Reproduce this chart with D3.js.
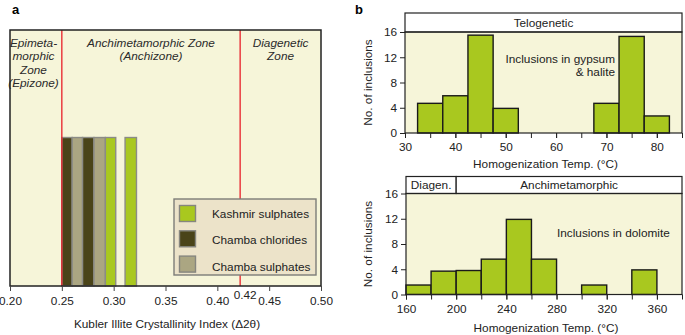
<!DOCTYPE html>
<html>
<head>
<meta charset="utf-8">
<script src="https://cdn.jsdelivr.net/npm/d3@7"></script>
<style>
  body { margin: 0; background: #fff; }
  svg { font-family: 'Liberation Sans', Arial, sans-serif; }
</style>
</head>
<body>
<div id="chart"></div>
<script>
// ---- panel a: Kubler illite crystallinity ----
const kublerTicks = [0.20, 0.25, 0.30, 0.35, 0.40, 0.45, 0.50];
const zoneBounds = [0.25, 0.422];
const zoneNames = [
  ['Epimeta-', 'morphic', 'Zone', '(Epizone)'],
  ['Anchimetamorphic Zone', '(Anchizone)'],
  ['Diagenetic', 'Zone']
];
const kublerLo = [0.250, 0.260, 0.270, 0.281, 0.292, 0.311];
const kublerHi = [0.260, 0.270, 0.281, 0.292, 0.302, 0.322];
const kublerGroup = ['Chamba chlorides', 'Chamba sulphates', 'Chamba chlorides',
  'Chamba sulphates', 'Kashmir sulphates', 'Kashmir sulphates'];
const kublerHeight = [0.58, 0.58, 0.58, 0.58, 0.58, 0.58];
const legendNames = ['Kashmir sulphates', 'Chamba chlorides', 'Chamba sulphates'];

// ---- panel b: homogenization temperatures ----
const gypsumBins = [32.5, 37.5, 42.5, 47.5, 67.5, 72.5, 77.5];
const gypsumCounts = [4.7, 5.9, 15.5, 3.9, 4.7, 15.3, 2.7];
const dolomiteBins = [160, 180, 200, 220, 240, 260, 300, 340];
const dolomiteCounts = [1.5, 3.7, 3.8, 5.6, 11.9, 5.6, 1.5, 3.9];
const countTicks = [0, 4, 8, 12, 16];
const gypsumTicks = [30, 40, 50, 60, 70, 80];
const dolomiteTicks = [160, 200, 240, 280, 320, 360];
const topZones = [{ from: 30, to: 85, name: 'Telogenetic' }];
const bottomZones = [{ from: 160, to: 200, name: 'Diagen.' }, { from: 200, to: 380, name: 'Anchimetamorphic' }];

const COLORS = {
  'Kashmir sulphates': '#a9c81f',
  'Chamba chlorides': '#4a4419',
  'Chamba sulphates': '#aba682'
};
const PLOT_BG = '#f6f5d9';
const FONT = "'Liberation Sans', Arial, sans-serif";

const svg = d3.select('#chart').append('svg')
  .attr('width', 685)
  .attr('height', 335);

// panel letters
svg.append('text').attr('x', 12).attr('y', 14)
  .style('font-weight', 'bold').style('font-size', '13px').text('a');
svg.append('text').attr('x', 355).attr('y', 14)
  .style('font-weight', 'bold').style('font-size', '13px').text('b');

function drawPanelA () {
  const L = 10, R = 321, T = 30, B = 286;
  const x = d3.scaleLinear().domain([0.2, 0.5]).range([L, R]);
  const y = d3.scaleLinear().domain([0, 1]).range([B, T]);
  const g = svg.append('g');

  g.append('rect').attr('x', L).attr('y', T).attr('width', R - L).attr('height', B - T)
    .attr('fill', PLOT_BG);

  // bars
  g.selectAll('.kbar')
    .data(kublerLo.map((lo, i) => ({ lo, hi: kublerHi[i], group: kublerGroup[i], h: kublerHeight[i] })))
    .enter()
    .append('rect')
    .attr('x', d => x(d.lo))
    .attr('y', d => y(d.h))
    .attr('width', d => x(d.hi) - x(d.lo))
    .attr('height', d => y(0) - y(d.h))
    .attr('fill', d => COLORS[d.group])
    .attr('stroke', '#8b8b86')
    .attr('stroke-width', 1.4);

  // zone boundaries
  g.selectAll('.zline')
    .data(zoneBounds)
    .enter()
    .append('line')
    .attr('x1', d => x(d)).attr('x2', d => x(d))
    .attr('y1', T).attr('y2', B)
    .attr('stroke', '#e8202a')
    .attr('stroke-width', 1.3);

  // zone labels
  const edges = [0.2].concat(zoneBounds, [0.5]);
  zoneNames.forEach((lines, i) => {
    const cx = i === 0 ? 33.5 : (x(edges[i]) + x(edges[i + 1])) / 2;
    lines.forEach((t, j) => {
      g.append('text')
        .attr('x', cx)
        .attr('y', 47 + j * 13.3)
        .attr('text-anchor', 'middle')
        .style('font-style', 'italic')
        .style('font-size', '11.8px')
        .attr('fill', '#2a2a2a')
        .text(t);
    });
  });

  // frame
  g.append('rect').attr('x', L).attr('y', T).attr('width', R - L).attr('height', B - T)
    .attr('fill', 'none').attr('stroke', '#222').attr('stroke-width', 1.5);

  // x axis
  const ax = g.append('g')
    .attr('transform', 'translate(0,' + B + ')')
    .call(d3.axisBottom(x).tickValues(kublerTicks).tickFormat(d3.format('.2f')).tickSize(5).tickPadding(6));
  ax.select('.domain').remove();
  ax.selectAll('line').attr('stroke', '#444');
  ax.selectAll('text').style('font-size', '11.8px').attr('fill', '#222')
    .style('font-family', FONT);

  g.append('text')
    .attr('x', x(zoneBounds[1]) + 5)
    .attr('y', 299)
    .attr('text-anchor', 'middle')
    .style('font-size', '11.8px')
    .attr('fill', '#222')
    .text(d3.format('.2f')(zoneBounds[1]));

  g.append('text')
    .attr('x', 167).attr('y', 328)
    .attr('text-anchor', 'middle')
    .style('font-size', '11.8px')
    .attr('fill', '#222')
    .text('Kubler Illite Crystallinity Index (\u03942\u03b8)');

  // legend
  const lg = g.append('g').attr('transform', 'translate(174,199)');
  lg.append('rect').attr('width', 142).attr('height', 76)
    .attr('fill', '#ece3c9').attr('stroke', '#7d7d78').attr('stroke-width', 1.4);
  legendNames.forEach((name, i) => {
    lg.append('rect')
      .attr('x', 5.5).attr('y', 6.5 + i * 25.3)
      .attr('width', 16).attr('height', 16)
      .attr('fill', COLORS[name])
      .attr('stroke', '#86867f').attr('stroke-width', 1.4);
    lg.append('text')
      .attr('x', 38).attr('y', 14.5 + i * 26.6)
      .attr('dy', '0.35em')
      .style('font-size', '11.8px')
      .attr('fill', '#222')
      .text(name);
  });
}

function drawHist (opts) {
  const { L, R, T, B, headTop, domain, bins, width, counts, ticks, minorStep, zones, xTitle, titleY } = opts;
  const x = d3.scaleLinear().domain(domain).range([L, R]);
  const y = d3.scaleLinear().domain([0, 16]).range([B, T]);
  const g = svg.append('g');

  g.append('rect').attr('x', L).attr('y', T).attr('width', R - L).attr('height', B - T)
    .attr('fill', PLOT_BG);

  g.selectAll('.hbar')
    .data(bins.map((b, i) => ({ b, c: counts[i] })))
    .enter()
    .append('rect')
    .attr('x', d => x(d.b))
    .attr('y', d => y(d.c))
    .attr('width', d => x(d.b + width) - x(d.b))
    .attr('height', d => y(0) - y(d.c))
    .attr('fill', COLORS['Kashmir sulphates'])
    .attr('stroke', '#1a1a1a')
    .attr('stroke-width', 1.4);

  // header zones
  g.selectAll('.zone')
    .data(zones)
    .enter()
    .append('rect')
    .attr('x', d => x(d.from))
    .attr('y', headTop)
    .attr('width', d => x(d.to) - x(d.from))
    .attr('height', T - headTop)
    .attr('fill', '#fff')
    .attr('stroke', '#222')
    .attr('stroke-width', 1.2);
  g.selectAll('.zoneText')
    .data(zones)
    .enter()
    .append('text')
    .attr('x', d => (x(d.from) + x(d.to)) / 2)
    .attr('y', (headTop + T) / 2)
    .attr('dy', '0.35em')
    .attr('text-anchor', 'middle')
    .style('font-size', '11.8px')
    .attr('fill', '#222')
    .text(d => d.name);

  // frame
  g.append('rect').attr('x', L).attr('y', T).attr('width', R - L).attr('height', B - T)
    .attr('fill', 'none').attr('stroke', '#222').attr('stroke-width', 1.2);

  // axes
  const ay = g.append('g')
    .attr('transform', 'translate(' + L + ',0)')
    .call(d3.axisLeft(y).tickValues(countTicks).tickSize(5).tickPadding(3));
  ay.select('.domain').remove();

  const minor = d3.range(domain[0], domain[1] + 0.001, minorStep);
  const axm = g.append('g')
    .attr('transform', 'translate(0,' + B + ')')
    .call(d3.axisBottom(x).tickValues(minor).tickFormat('').tickSize(5));
  axm.select('.domain').remove();
  const axb = g.append('g')
    .attr('transform', 'translate(0,' + B + ')')
    .call(d3.axisBottom(x).tickValues(ticks).tickSize(5).tickPadding(5));
  axb.select('.domain').remove();

  g.selectAll('.tick line').attr('stroke', '#222');
  g.selectAll('.tick text').style('font-size', '11.8px').attr('fill', '#222')
    .style('font-family', FONT);

  g.append('text')
    .attr('x', (L + R) / 2 + 2).attr('y', titleY)
    .attr('text-anchor', 'middle')
    .style('font-size', '11.8px')
    .attr('fill', '#222')
    .text(xTitle);

  g.append('text')
    .attr('transform', 'translate(372,' + ((T + B) / 2) + ') rotate(-90)')
    .attr('text-anchor', 'middle')
    .style('font-size', '11.8px')
    .attr('fill', '#222')
    .text('No. of inclusions');

  return { g, x, y };
}

drawPanelA();

const topHist = drawHist({
  L: 405, R: 682, T: 32, B: 133, headTop: 13,
  domain: [30, 85], bins: gypsumBins, width: 5, counts: gypsumCounts,
  ticks: gypsumTicks, minorStep: 5, zones: topZones,
  xTitle: 'Homogenization Temp. (\u00b0C)', titleY: 168
});
topHist.g.append('text').attr('x', 615).attr('y', 63).attr('text-anchor', 'end')
  .style('font-size', '11.8px').attr('fill', '#222').text('Inclusions in gypsum');
topHist.g.append('text').attr('x', 615).attr('y', 76).attr('text-anchor', 'end')
  .style('font-size', '11.8px').attr('fill', '#222').text('& halite');

const bottomHist = drawHist({
  L: 406, R: 682, T: 193.5, B: 294.5, headTop: 176.5,
  domain: [160, 380], bins: dolomiteBins, width: 20, counts: dolomiteCounts,
  ticks: dolomiteTicks, minorStep: 20, zones: bottomZones,
  xTitle: 'Homogenization Temp. (\u00b0C)', titleY: 332
});
bottomHist.g.append('text').attr('x', 557).attr('y', 237).attr('text-anchor', 'start')
  .style('font-size', '11.8px').attr('fill', '#222').text('Inclusions in dolomite');
</script>
</body>
</html>
